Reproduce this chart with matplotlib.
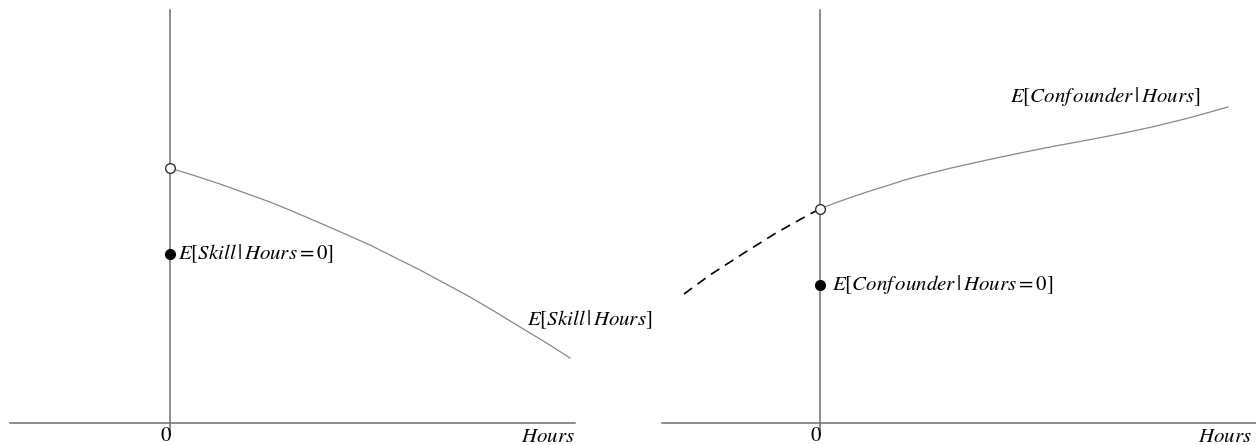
import matplotlib
matplotlib.use('Agg')
import matplotlib.pyplot as plt

plt.rcParams['mathtext.fontset'] = 'stix'

# left panel: E[Skill|Hours]
hours_left = [0, 0.0625, 0.125, 0.1875, 0.25, 0.3125, 0.375, 0.4375, 0.5,
              0.5625, 0.625, 0.6875, 0.75, 0.8125, 0.875, 0.9375, 1.0]
skill = [0.6375, 0.618, 0.5975, 0.575, 0.5525, 0.5268, 0.50, 0.4727, 0.445,
         0.4135, 0.3825, 0.3488, 0.315, 0.2782, 0.24, 0.2025, 0.1625]
skill_at_zero = 0.4225

# right panel: E[Confounder|Hours]
hours_right = [0, 0.04, 0.08, 0.125, 0.17, 0.21, 0.25, 0.33, 0.42, 0.5, 0.58,
               0.67, 0.75, 0.83, 0.92, 1.02]
confounder = [0.535, 0.551, 0.565, 0.58, 0.594, 0.607, 0.618, 0.638, 0.658,
              0.675, 0.691, 0.7075, 0.723, 0.74, 0.762, 0.79]
hours_neg = [-0.34, -0.275, -0.19, -0.11, -0.025, 0]
confounder_neg = [0.3225, 0.37, 0.425, 0.475, 0.5225, 0.535]
confounder_at_zero = 0.345

fig = plt.figure(figsize=(12.56, 4.45), dpi=100)
axl = fig.add_axes([0, 0, 0.5, 1])
axr = fig.add_axes([0.5, 0, 0.5, 1])

axcol = '#6e6e6e'
fs = 15


def frame(ax, xleft, xright):
    ax.set_ylim(-0.055, 1.0575)
    ax.plot([xleft, xright], [0, 0], color=axcol, lw=1.1)
    ax.plot([0, 0], [-0.03, 1.0325], color=axcol, lw=1.1)
    ax.text(-0.012, -0.032, '0', fontsize=fs, family='STIXGeneral', ha='center', va='center')
    ax.axis('off')


axl.set_xlim(-0.425, 1.145)
frame(axl, -0.4, 1.0125)
axl.text(1.0125, -0.032, r'$Hours$', fontsize=fs, ha='right', va='center')
axl.plot(hours_left, skill, color='#888888', lw=0.9)
axl.plot(0, skill[0], 'o', ms=7, mfc='white', mec='#333333', mew=1)
axl.plot(0, skill_at_zero, 'o', ms=7, color='black')
axl.text(0.02, skill_at_zero, r'$E[Skill\,|\,Hours=0]$', fontsize=fs, va='center')
axl.text(0.8925, 0.2575, r'$E[Skill\,|\,Hours]$', fontsize=fs, va='center')

axr.set_xlim(-0.48, 1.09)
frame(axr, -0.395, 1.09)
axr.text(1.08, -0.032, r'$Hours$', fontsize=fs, ha='right', va='center')
axr.plot(hours_neg, confounder_neg, color='black', lw=1.2, ls=(0, (6, 4)))
axr.plot(hours_right, confounder, color='#888888', lw=0.9)
axr.plot(0, confounder[0], 'o', ms=7, mfc='white', mec='#333333', mew=1)
axr.plot(0, confounder_at_zero, 'o', ms=7, color='black')
axr.text(0.03, confounder_at_zero, r'$E[Conf\,ounder\,|\,Hours=0]$', fontsize=fs, va='center')
axr.text(0.475, 0.815, r'$E[Conf\,ounder\,|\,Hours]$', fontsize=fs, va='center')

fig.savefig('out.png', dpi=100)
